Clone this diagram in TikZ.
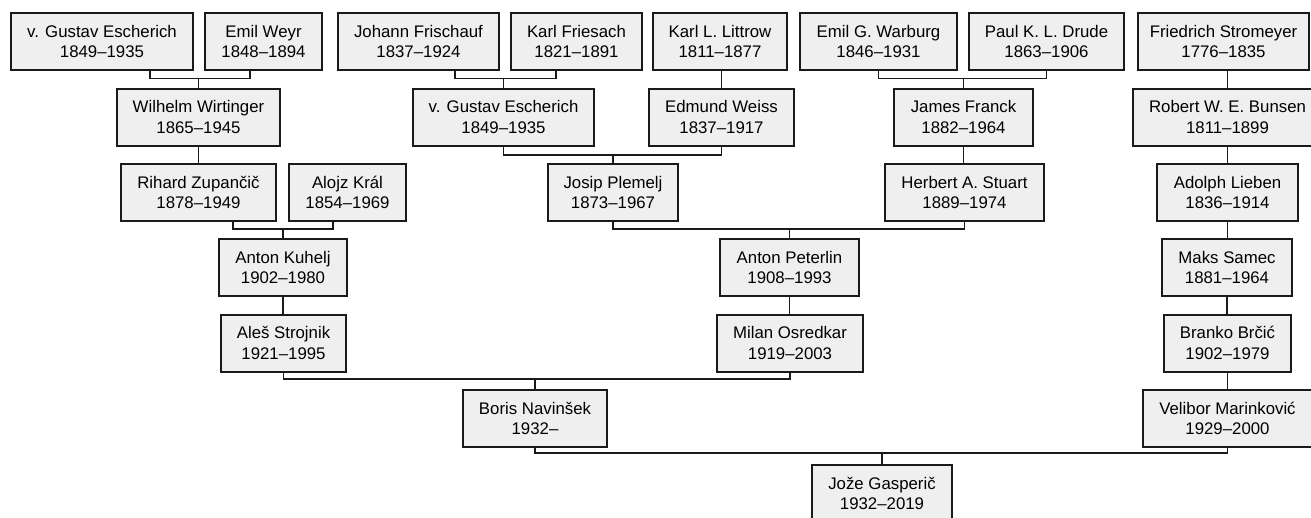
\documentclass[tikz,border=0pt]{standalone}
\usepackage{fontspec}
\setmainfont{Liberation Sans}
\definecolor{boxgray}{HTML}{EFEFEF}
\definecolor{edgeblack}{HTML}{1A1A1A}
\begin{document}
\begin{tikzpicture}[x=1pt,y=-1pt,
  person/.style={draw=edgeblack, fill=boxgray, line width=2pt, minimum height=57pt,
    inner sep=0pt, align=center, font=\fontsize{16.8}{20.5}\selectfont},
  conn/.style={draw=edgeblack, line width=1.8pt}]
\useasboundingbox (0,0) rectangle (1311,517);
\clip (0,0) rectangle (1311,517);
% row 1
\node[person, minimum width=182pt] (esch1) at (102,41.5) {v. Gustav Escherich\\1849–1935};
\node[person, minimum width=117pt] (weyr) at (263.5,41.5) {Emil Weyr\\1848–1894};
\node[person, minimum width=161pt] (frisch) at (418.5,41.5) {Johann Frischauf\\1837–1924};
\node[person, minimum width=131pt] (friesach) at (576.5,41.5) {Karl Friesach\\1821–1891};
\node[person, minimum width=134pt] (littrow) at (720,41.5) {Karl L. Littrow\\1811–1877};
\node[person, minimum width=157pt] (warburg) at (878.5,41.5) {Emil G. Warburg\\1846–1931};
\node[person, minimum width=155pt] (drude) at (1046.5,41.5) {Paul K. L. Drude\\1863–1906};
\node[person, minimum width=171pt] (strom) at (1223.5,41.5) {Friedrich Stromeyer\\1776–1835};
% row 2
\node[person, minimum width=163pt] (wirt) at (198.5,117) {Wilhelm Wirtinger\\1865–1945};
\node[person, minimum width=181pt] (esch2) at (503.5,117) {v. Gustav Escherich\\1849–1935};
\node[person, minimum width=145pt] (weiss) at (721.5,117) {Edmund Weiss\\1837–1917};
\node[person, minimum width=139pt] (franck) at (963.5,117) {James Franck\\1882–1964};
\node[person, minimum width=189pt] (bunsen) at (1227.5,117) {Robert W. E. Bunsen\\1811–1899};
% row 3
\node[person, minimum width=155pt] (zup) at (198.5,192.5) {Rihard Zupančič\\1878–1949};
\node[person, minimum width=117pt] (kral) at (347.5,192.5) {Alojz Král\\1854–1969};
\node[person, minimum width=130pt] (plemelj) at (613,192.5) {Josip Plemelj\\1873–1967};
\node[person, minimum width=159pt] (stuart) at (964.5,192.5) {Herbert A. Stuart\\1889–1974};
\node[person, minimum width=141pt] (lieben) at (1227.5,192.5) {Adolph Lieben\\1836–1914};
% row 4
\node[person, minimum width=128pt] (kuhelj) at (283,267.5) {Anton Kuhelj\\1902–1980};
\node[person, minimum width=139pt] (peterlin) at (789.5,267.5) {Anton Peterlin\\1908–1993};
\node[person, minimum width=130pt] (samec) at (1227,267.5) {Maks Samec\\1881–1964};
% row 5
\node[person, minimum width=125pt] (strojnik) at (283.5,343) {Aleš Strojnik\\1921–1995};
\node[person, minimum width=146pt] (osredkar) at (790,343) {Milan Osredkar\\1919–2003};
\node[person, minimum width=127pt] (brcic) at (1227.5,343) {Branko Brčić\\1902–1979};
% row 6
\node[person, minimum width=144pt] (navinsek) at (535,418.5) {Boris Navinšek\\1932–};
\node[person, minimum width=169pt] (marink) at (1227.5,418.5) {Velibor Marinković\\1929–2000};
% row 7
\node[person, minimum width=140pt] (gasp) at (882,493.5) {Jože Gasperič\\1932–2019};
% connectors
\draw[conn] ([xshift=48pt]esch1.south) |- ([yshift=9pt]wirt.north) -| ([xshift=-13.5pt]weyr.south);
\draw[conn] ([yshift=9pt]wirt.north) -- (wirt.north);
\draw[conn] ([xshift=36.5pt]frisch.south) |- ([yshift=9pt]esch2.north) -| ([xshift=-20.5pt]friesach.south);
\draw[conn] ([yshift=9pt]esch2.north) -- (esch2.north);
\draw[conn] (weiss.north |- littrow.south) -- (weiss.north);
\draw[conn] (warburg.south) |- ([yshift=9pt]franck.north) -| (drude.south);
\draw[conn] ([yshift=9pt]franck.north) -- (franck.north);
\draw[conn] (bunsen.north |- strom.south) -- (bunsen.north);
\draw[conn] (wirt.south) -- (wirt.south |- zup.north);
\draw[conn] (esch2.south) |- ([yshift=8pt]plemelj.north) -| (weiss.south);
\draw[conn] ([yshift=8pt]plemelj.north) -- (plemelj.north);
\draw[conn] (franck.south) -- (franck.south |- stuart.north);
\draw[conn] (bunsen.south) -- (bunsen.south |- lieben.north);
\draw[conn] ([xshift=34.5pt]zup.south) |- ([yshift=9pt]kuhelj.north) -| ([xshift=-14.5pt]kral.south);
\draw[conn] ([yshift=9pt]kuhelj.north) -- (kuhelj.north);
\draw[conn] (plemelj.south) |- ([yshift=9pt]peterlin.north) -| (stuart.south);
\draw[conn] ([yshift=9pt]peterlin.north) -- (peterlin.north);
\draw[conn] (lieben.south) -- (lieben.south |- samec.north);
\draw[conn] (kuhelj.south) -- (kuhelj.south |- strojnik.north);
\draw[conn] (peterlin.south) -- (peterlin.south |- osredkar.north);
\draw[conn] (samec.south) -- (samec.south |- brcic.north);
\draw[conn] (strojnik.south) |- ([yshift=10pt]navinsek.north) -| (osredkar.south);
\draw[conn] ([yshift=10pt]navinsek.north) -- (navinsek.north);
\draw[conn] (brcic.south) -- (brcic.south |- marink.north);
\draw[conn] (navinsek.south) |- ([yshift=11pt]gasp.north) -| (marink.south);
\draw[conn] ([yshift=11pt]gasp.north) -- (gasp.north);
\end{tikzpicture}
\end{document}
